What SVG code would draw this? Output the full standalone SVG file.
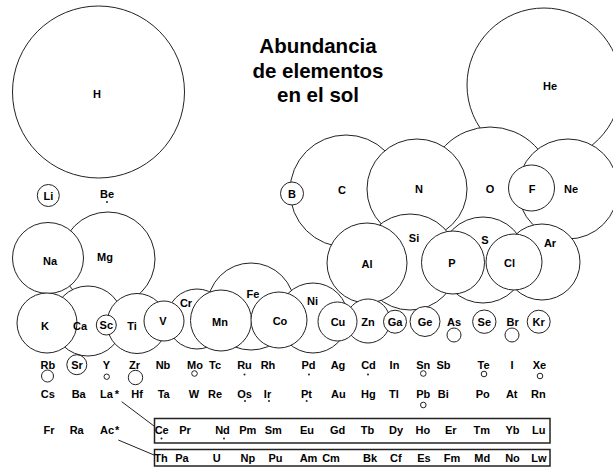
<svg xmlns="http://www.w3.org/2000/svg" width="613" height="468" viewBox="0 0 613 468">
<style>
.e{fill:#fff;stroke:#222;stroke-width:1}
.m{fill:none;stroke:#222;stroke-width:1}
.d{fill:#222;stroke:none}
text{font-family:"Liberation Sans",Arial,sans-serif;font-weight:bold;fill:#000}
.l{font-size:11px;text-anchor:middle}
.t{font-size:20.5px;text-anchor:middle}
.box{fill:none;stroke:#222;stroke-width:1.5}
</style>
<rect width="613" height="468" fill="#fff"/>
<g id="title">
<text class="t" x="318" y="53">Abundancia</text>
<text class="t" x="318" y="77.5">de elementos</text>
<text class="t" x="318" y="101.5">en el sol</text>
</g>
<g id="nodes">
<g id="H"><circle class="e" cx="98.5" cy="92" r="86"/></g>
<g id="He"><circle class="e" cx="544" cy="85" r="77"/></g>
<g id="O"><circle class="e" cx="490" cy="190" r="63"/></g>
<g id="C"><circle class="e" cx="346" cy="191" r="56"/></g>
<g id="N"><circle class="e" cx="417" cy="189" r="50"/></g>
<g id="Ne"><circle class="e" cx="568" cy="189" r="50"/></g>
<g id="F"><circle class="e" cx="531.5" cy="188" r="23"/></g>
<g id="Si"><circle class="e" cx="410" cy="262" r="48"/></g>
<g id="S"><circle class="e" cx="483" cy="260" r="43"/></g>
<g id="Ar"><circle class="e" cx="542" cy="262" r="38"/></g>
<g id="Cl"><circle class="e" cx="514" cy="262" r="28"/></g>
<g id="P"><circle class="e" cx="453" cy="262.5" r="31.5"/></g>
<g id="Al"><circle class="e" cx="367" cy="263" r="40"/></g>
<g id="B"><circle class="e" cx="292" cy="193.5" r="11.5"/></g>
<g id="Li"><circle class="e" cx="48.3" cy="195.5" r="11"/></g>
<g id="Be"><circle class="d" cx="107" cy="202" r="1"/></g>
<g id="Mg"><circle class="e" cx="108" cy="259" r="47"/></g>
<g id="Na"><circle class="e" cx="48" cy="258" r="35.5"/></g>
<g id="Ca"><circle class="e" cx="88" cy="321" r="35"/></g>
<g id="K"><circle class="e" cx="47" cy="323" r="30"/></g>
<g id="Ti"><circle class="e" cx="137" cy="323.5" r="30"/></g>
<g id="Sc"><circle class="e" cx="106.3" cy="325" r="10"/></g>
<g id="Cr"><circle class="e" cx="197" cy="319" r="30"/></g>
<g id="V"><circle class="e" cx="164" cy="321" r="20"/></g>
<g id="Fe"><circle class="e" cx="251" cy="306.5" r="43.5"/></g>
<g id="Mn"><circle class="e" cx="221" cy="320.5" r="30.5"/></g>
<g id="Ni"><circle class="e" cx="313" cy="318" r="35"/></g>
<g id="Co"><circle class="e" cx="279" cy="320" r="28"/></g>
<g id="Zn"><circle class="e" cx="368" cy="321" r="22"/></g>
<g id="Cu"><circle class="e" cx="337.5" cy="321.5" r="19.5"/></g>
<g id="Ga"><circle class="e" cx="395" cy="321.7" r="11.5"/></g>
<g id="Ge"><circle class="e" cx="425" cy="321.5" r="15"/></g>
<g id="Se"><circle class="e" cx="484.3" cy="321.7" r="11.7"/></g>
<g id="Kr"><circle class="e" cx="538.7" cy="321.7" r="11.5"/></g>
<g id="As"><circle class="e" cx="454" cy="335" r="7"/></g>
<g id="Br"><circle class="e" cx="512" cy="335" r="7"/></g>
<g id="Rb"><circle class="m" cx="47.5" cy="376" r="6"/></g>
<g id="Sr"><circle class="m" cx="76.8" cy="364.7" r="10"/></g>
<g id="Y"><circle class="m" cx="106.7" cy="376.7" r="2.7"/></g>
<g id="Zr"><circle class="m" cx="135.5" cy="377.5" r="7.2"/></g>
<g id="Mo"><circle class="m" cx="194.5" cy="373.5" r="2.8"/></g>
<g id="Ru"><circle class="d" cx="244.5" cy="374.5" r="1"/></g>
<g id="Pd"><circle class="d" cx="309" cy="374.5" r="1"/></g>
<g id="Cd"><circle class="d" cx="368" cy="374.5" r="1"/></g>
<g id="Sn"><circle class="m" cx="423.3" cy="373.5" r="2.8"/></g>
<g id="Te"><circle class="m" cx="484" cy="374" r="2.8"/></g>
<g id="Xe"><circle class="m" cx="540" cy="376" r="2.8"/></g>
<g id="Os"><circle class="d" cx="245" cy="401" r="1"/></g>
<g id="Ir"><circle class="d" cx="269" cy="401" r="1"/></g>
<g id="Pt"><circle class="d" cx="306.7" cy="401" r="1"/></g>
<g id="Pb"><circle class="m" cx="423.3" cy="405" r="2.8"/></g>
<g id="Ce"><circle class="d" cx="161.5" cy="438.5" r="1"/></g>
<g id="Nd"><circle class="d" cx="224" cy="438.5" r="1"/></g>
</g>
<g id="connectors">
<line class="m" x1="121.7" y1="401.7" x2="154" y2="426"/>
<line class="m" x1="118.3" y1="440" x2="154" y2="455"/>
<rect id="lanthanides" class="box" x="154.5" y="418.5" width="395.5" height="24.5"/>
<rect id="actinides" class="box" x="154.5" y="449.5" width="395.5" height="16.5"/>
</g>
<g id="labels">
<text class="l" x="97" y="98">H</text>
<text class="l" x="550" y="90">He</text>
<text class="l" x="48.3" y="199.5">Li</text>
<text class="l" x="107" y="198">Be</text>
<text class="l" x="292" y="197.5">B</text>
<text class="l" x="342" y="194">C</text>
<text class="l" x="419" y="193">N</text>
<text class="l" x="490" y="193">O</text>
<text class="l" x="532" y="193">F</text>
<text class="l" x="571" y="193">Ne</text>
<text class="l" x="367" y="268">Al</text>
<text class="l" x="414" y="242">Si</text>
<text class="l" x="452" y="267">P</text>
<text class="l" x="485" y="244">S</text>
<text class="l" x="509.5" y="267">Cl</text>
<text class="l" x="550" y="247">Ar</text>
<text class="l" x="50" y="265">Na</text>
<text class="l" x="105" y="261">Mg</text>
<text class="l" x="45" y="329.5">K</text>
<text class="l" x="80" y="329.5">Ca</text>
<text class="l" x="106.3" y="329">Sc</text>
<text class="l" x="132" y="329.5">Ti</text>
<text class="l" x="163" y="325">V</text>
<text class="l" x="186" y="307">Cr</text>
<text class="l" x="220" y="326">Mn</text>
<text class="l" x="253" y="298">Fe</text>
<text class="l" x="280" y="325">Co</text>
<text class="l" x="312.5" y="305">Ni</text>
<text class="l" x="338" y="326">Cu</text>
<text class="l" x="368" y="326">Zn</text>
<text class="l" x="395" y="326">Ga</text>
<text class="l" x="425" y="326">Ge</text>
<text class="l" x="454" y="326">As</text>
<text class="l" x="484.3" y="326">Se</text>
<text class="l" x="512.7" y="326">Br</text>
<text class="l" x="538.7" y="326">Kr</text>
<text class="l" x="47.8" y="369">Rb</text>
<text class="l" x="77" y="369">Sr</text>
<text class="l" x="106.5" y="369">Y</text>
<text class="l" x="134.5" y="369">Zr</text>
<text class="l" x="163" y="369">Nb</text>
<text class="l" x="195" y="369">Mo</text>
<text class="l" x="215" y="369">Tc</text>
<text class="l" x="244.5" y="369">Ru</text>
<text class="l" x="268" y="369">Rh</text>
<text class="l" x="308.5" y="369">Pd</text>
<text class="l" x="338" y="369">Ag</text>
<text class="l" x="368.5" y="369">Cd</text>
<text class="l" x="394.5" y="369">In</text>
<text class="l" x="423.3" y="369">Sn</text>
<text class="l" x="443.5" y="369">Sb</text>
<text class="l" x="483.5" y="369">Te</text>
<text class="l" x="512" y="369">I</text>
<text class="l" x="539.5" y="369">Xe</text>
<text class="l" x="47.8" y="397.5">Cs</text>
<text class="l" x="78.7" y="397.5">Ba</text>
<text style="font-size:11px" x="100" y="397.5">La<tspan dx="2">*</tspan></text>
<text class="l" x="137" y="397.5">Hf</text>
<text class="l" x="163.7" y="397.5">Ta</text>
<text class="l" x="194" y="397.5">W</text>
<text class="l" x="215" y="397.5">Re</text>
<text class="l" x="244.5" y="397.5">Os</text>
<text class="l" x="267.5" y="397.5">Ir</text>
<text class="l" x="306.5" y="397.5">Pt</text>
<text class="l" x="338.3" y="397.5">Au</text>
<text class="l" x="368.3" y="397.5">Hg</text>
<text class="l" x="394" y="397.5">Tl</text>
<text class="l" x="423.3" y="397.5">Pb</text>
<text class="l" x="443.3" y="397.5">Bi</text>
<text class="l" x="482.7" y="397.5">Po</text>
<text class="l" x="511.7" y="397.5">At</text>
<text class="l" x="538.3" y="397.5">Rn</text>
<text class="l" x="49" y="433.5">Fr</text>
<text class="l" x="76.7" y="433.5">Ra</text>
<text style="font-size:11px" x="100" y="433.5">Ac<tspan dx="1">*</tspan></text>
<text class="l" x="161.7" y="433.5">Ce</text>
<text class="l" x="185" y="433.5">Pr</text>
<text class="l" x="222.5" y="433.5">Nd</text>
<text class="l" x="247.7" y="433.5">Pm</text>
<text class="l" x="273.3" y="433.5">Sm</text>
<text class="l" x="307" y="433.5">Eu</text>
<text class="l" x="337.7" y="433.5">Gd</text>
<text class="l" x="367.5" y="433.5">Tb</text>
<text class="l" x="396" y="433.5">Dy</text>
<text class="l" x="422.8" y="433.5">Ho</text>
<text class="l" x="450.8" y="433.5">Er</text>
<text class="l" x="481.7" y="433.5">Tm</text>
<text class="l" x="512.5" y="433.5">Yb</text>
<text class="l" x="538.8" y="433.5">Lu</text>
<text class="l" x="161" y="461.5">Th</text>
<text class="l" x="182" y="461.5">Pa</text>
<text class="l" x="216.7" y="461.5">U</text>
<text class="l" x="247.8" y="461.5">Np</text>
<text class="l" x="275.5" y="461.5">Pu</text>
<text class="l" x="308.5" y="461.5">Am</text>
<text class="l" x="331" y="461.5">Cm</text>
<text class="l" x="370" y="461.5">Bk</text>
<text class="l" x="395.8" y="461.5">Cf</text>
<text class="l" x="424" y="461.5">Es</text>
<text class="l" x="452" y="461.5">Fm</text>
<text class="l" x="482.3" y="461.5">Md</text>
<text class="l" x="512.5" y="461.5">No</text>
<text class="l" x="539" y="461.5">Lw</text>
</g>
</svg>
